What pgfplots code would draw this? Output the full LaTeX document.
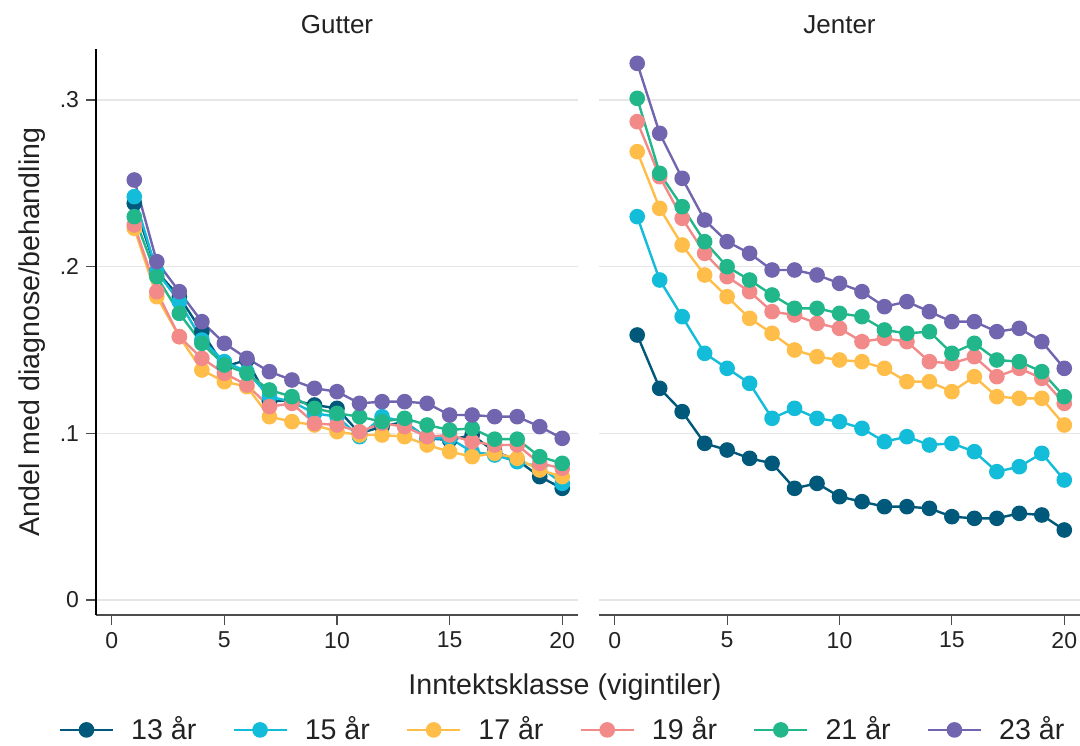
\documentclass[border=0pt]{standalone}
\usepackage{pgfplots}
\pgfplotsset{compat=1.18}
\usepackage{pgfplotstable}
\usepackage{fontspec}
\setmainfont{Liberation Sans}

\definecolor{c13}{HTML}{00587A}
\definecolor{c15}{HTML}{13BCD8}
\definecolor{c17}{HTML}{FFBD4A}
\definecolor{c19}{HTML}{F28A8A}
\definecolor{c21}{HTML}{21B78A}
\definecolor{c23}{HTML}{7165B0}
\definecolor{txt}{HTML}{222222}
\definecolor{gridc}{HTML}{E6E6E6}

% andel med diagnose/behandling, gutter
\pgfplotstableread{
x  a13   a15   a17   a19   a21    a23
1  .238  .242  .223  .225  .230   .252
2  .197  .197  .182  .185  .194   .203
3  .182  .179  .158  .158  .172   .185
4  .161  .156  .138  .145  .154   .167
5  .140  .143  .131  .136  .141   .154
6  .144  .137  .128  .129  .136   .145
7  .119  .122  .110  .116  .126   .137
8  .120  .119  .107  .118  .122   .132
9  .117  .112  .105  .106  .115   .127
10 .115  .110  .101  .105  .112   .125
11 .100  .098  .099  .101  .110   .118
12 .104  .110  .099  .106  .107   .119
13 .107  .107  .098  .104  .109   .119
14 .097  .097  .093  .098  .105   .118
15 .096  .097  .089  .099  .102   .111
16 .099  .089  .086  .095  .103   .111
17 .089  .087  .088  .093  .0965  .110
18 .084  .083  .085  .093  .0965  .110
19 .074  .080  .078  .082  .086   .104
20 .067  .070  .074  .079  .082   .097
}\gutter

% jenter
\pgfplotstableread{
x  a13   a15   a17   a19   a21   a23
1  .159  .230  .269  .287  .301  .322
2  .127  .192  .235  .254  .256  .280
3  .113  .170  .213  .229  .236  .253
4  .094  .148  .195  .208  .215  .228
5  .090  .139  .182  .194  .200  .215
6  .085  .130  .169  .185  .192  .208
7  .082  .109  .160  .173  .183  .198
8  .067  .115  .150  .171  .175  .198
9  .070  .109  .146  .166  .175  .195
10 .062  .107  .144  .163  .172  .190
11 .059  .103  .143  .155  .170  .185
12 .056  .095  .139  .157  .162  .176
13 .056  .098  .131  .155  .160  .179
14 .055  .093  .131  .143  .161  .173
15 .050  .094  .125  .142  .148  .167
16 .049  .089  .134  .146  .154  .167
17 .049  .077  .122  .134  .144  .161
18 .052  .080  .121  .139  .143  .163
19 .051  .088  .121  .133  .137  .155
20 .042  .072  .105  .118  .122  .139
}\jenter

\pgfplotsset{
  panel/.style={
    scale only axis, height=283pt,
    xmin=-0.7, xmax=20.7, ymin=-0.009, ymax=0.3306,
    xtick={0,5,10,15,20}, xticklabels={0,5,10,15,20},
    ytick={0,0.1,0.2,0.3},
    axis x line=bottom, axis y line=left,
    axis line style={-},
    x axis line style={line width=0.8pt, color=black!70},
    ymajorgrids, grid style={draw=gridc, line width=0.6pt},
    tick align=outside, major tick length=5pt,
    tick style={line width=0.6pt, color=black!70},
    ticklabel style={font=\fontsize{11.5}{13}\selectfont, text=txt},
    title style={font=\fontsize{13}{15}\selectfont, text=txt,
      at={(0.5,1)}, anchor=base, yshift=1.5pt},
    every axis plot/.append style={line width=1.2pt, mark=*, mark size=3.3pt},
    cycle list={{c13},{c15},{c17},{c19},{c21},{c23}},
    legend image code/.code={
      \draw[mark repeat=2,mark phase=2] plot coordinates {(0pt,0pt) (13.25pt,0pt) (26.5pt,0pt)};},
  }
}

\begin{document}
\begin{tikzpicture}
\useasboundingbox (0,0) rectangle (540pt,372.5pt);

\begin{axis}[panel, at={(48pt,65pt)}, anchor=south west, width=241pt,
  title={Gutter},
  yticklabels={0,.1,.2,.3},
  y axis line style={line width=1pt, color=black},
  ylabel={Andel med diagnose/behandling},
  ylabel style={font=\fontsize{14.3}{16}\selectfont, text=txt,
    at={(axis description cs:-0.118,0.5)}, anchor=base},
  xlabel={Inntektsklasse (vigintiler)},
  xlabel style={font=\fontsize{14.3}{16}\selectfont, text=txt,
    at={(axis description cs:0.973,-0.1396)}, anchor=base},
  legend columns=6,
  legend style={draw=none, fill=none, at={(axis description cs:0.970,-0.203)},
    anchor=center, font=\fontsize{14.3}{16}\selectfont, text=txt,
    /tikz/every odd column/.append style={column sep=6.5pt},
    /tikz/every even column/.append style={column sep=16pt}},
]
\addplot table[x=x, y=a13] {\gutter};
\addplot table[x=x, y=a15] {\gutter};
\addplot table[x=x, y=a17] {\gutter};
\addplot table[x=x, y=a19] {\gutter};
\addplot table[x=x, y=a21] {\gutter};
\addplot table[x=x, y=a23] {\gutter};
\legend{13 år, 15 år, 17 år, 19 år, 21 år, 23 år}
\end{axis}

\begin{axis}[panel, at={(299.5pt,65pt)}, anchor=south west, width=240.5pt,
  title={Jenter},
  yticklabels={},
  y axis line style={draw=none},
  ytick style={draw=none},
]
\addplot table[x=x, y=a13] {\jenter};
\addplot table[x=x, y=a15] {\jenter};
\addplot table[x=x, y=a17] {\jenter};
\addplot table[x=x, y=a19] {\jenter};
\addplot table[x=x, y=a21] {\jenter};
\addplot table[x=x, y=a23] {\jenter};
\end{axis}
\end{tikzpicture}
\end{document}
